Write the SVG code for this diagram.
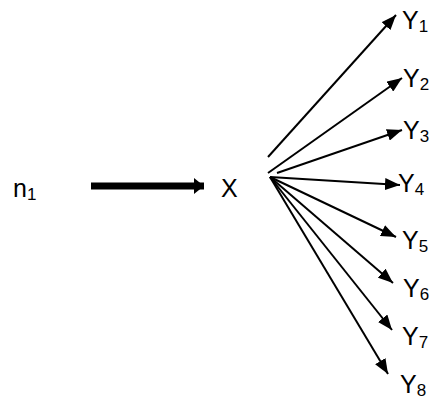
<svg xmlns="http://www.w3.org/2000/svg" width="433" height="401" viewBox="0 0 433 401">
<defs>
<style>
.lbl{font-family:"Liberation Sans",Arial,sans-serif;font-size:25px;fill:#000}
.sub{font-size:17px}
.edge{stroke:#000;stroke-width:2;fill:none;marker-end:url(#ah)}
</style>
<marker id="ah" markerUnits="userSpaceOnUse" markerWidth="16" markerHeight="12" refX="15" refY="6" orient="auto">
<path d="M0,0 L15,6 L0,12 Z" fill="#000"/>
</marker>
<marker id="bh" markerUnits="userSpaceOnUse" markerWidth="12" markerHeight="18" refX="10" refY="8" orient="auto">
<path d="M0,0 L10,8 L0,16 Z" fill="#000"/>
</marker>
</defs>
<rect width="433" height="401" fill="#fff"/>
<g id="n1"><text class="lbl" x="13" y="197">n<tspan class="sub" dy="3">1</tspan></text></g>
<g id="X"><text class="lbl" x="221" y="197">X</text></g>
<g id="Y1"><text class="lbl" x="402" y="29">Y<tspan class="sub" dy="3">1</tspan></text></g>
<g id="Y2"><text class="lbl" x="403" y="87">Y<tspan class="sub" dy="3">2</tspan></text></g>
<g id="Y3"><text class="lbl" x="403" y="139">Y<tspan class="sub" dy="3">3</tspan></text></g>
<g id="Y4"><text class="lbl" x="398" y="192">Y<tspan class="sub" dy="3">4</tspan></text></g>
<g id="Y5"><text class="lbl" x="402" y="249">Y<tspan class="sub" dy="3">5</tspan></text></g>
<g id="Y6"><text class="lbl" x="403" y="297">Y<tspan class="sub" dy="3">6</tspan></text></g>
<g id="Y7"><text class="lbl" x="402" y="345">Y<tspan class="sub" dy="3">7</tspan></text></g>
<g id="Y8"><text class="lbl" x="400" y="393">Y<tspan class="sub" dy="3">8</tspan></text></g>
<g id="connectors">
<line x1="91" y1="186" x2="204" y2="186" stroke="#000" stroke-width="7" marker-end="url(#bh)"/>
<line class="edge" x1="268" y1="157" x2="396" y2="15"/>
<line class="edge" x1="268" y1="173" x2="402" y2="78"/>
<line class="edge" x1="277" y1="173" x2="402" y2="130"/>
<line class="edge" x1="270" y1="177" x2="400" y2="185"/>
<line class="edge" x1="270" y1="177" x2="396" y2="237"/>
<line class="edge" x1="270" y1="177" x2="393" y2="283"/>
<line class="edge" x1="270" y1="177" x2="392" y2="330"/>
<line class="edge" x1="270" y1="177" x2="388" y2="374"/>
</g>
</svg>
